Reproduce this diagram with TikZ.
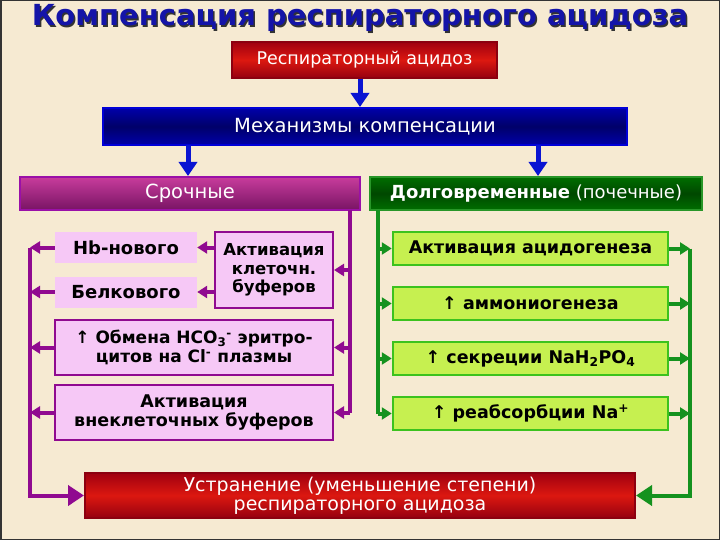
\documentclass[tikz,border=0pt]{standalone}
\usepackage{fontspec}
\setmainfont{DejaVu Sans}
\usetikzlibrary{arrows.meta}

\definecolor{bgbeige}{HTML}{F6EAD2}
\definecolor{titleblue}{HTML}{1414A8}
\definecolor{arrowblue}{HTML}{0A14D2}
\definecolor{lineviolet}{HTML}{900A90}
\definecolor{linegreen}{HTML}{14921E}
\definecolor{pinkfill}{HTML}{F6C8F6}
\definecolor{limefill}{HTML}{C6F050}
\definecolor{limeborder}{HTML}{3CC21E}

\begin{document}
\begin{tikzpicture}[x=1pt, y=-1pt,
  headbox/.style={text=white, inner sep=0pt, line width=2pt, font=\fontsize{18}{20}\selectfont},
  redhead/.style={headbox, top color={rgb,255:red,160;green,0;blue,16}, bottom color={rgb,255:red,150;green,0;blue,16}, middle color={rgb,255:red,220;green,24;blue,16}, draw={rgb,255:red,140;green,0;blue,16}},
  bluehead/.style={headbox, top color={rgb,255:red,0;green,0;blue,170}, bottom color={rgb,255:red,0;green,0;blue,170}, middle color={rgb,255:red,0;green,0;blue,105}, draw={rgb,255:red,0;green,0;blue,215}},
  violethead/.style={headbox, top color={rgb,255:red,200;green,60;blue,156}, bottom color={rgb,255:red,120;green,20;blue,100}, draw={rgb,255:red,154;green,16;blue,168}},
  greenhead/.style={headbox, top color={rgb,255:red,0;green,110;blue,0}, bottom color={rgb,255:red,0;green,110;blue,0}, middle color={rgb,255:red,0;green,72;blue,0}, draw={rgb,255:red,40;green,150;blue,40}},
  finalhead/.style={redhead, align=center, font=\fontsize{19}{19}\selectfont},
  pinkbox/.style={fill=pinkfill, inner sep=0pt, align=center, font=\bfseries\fontsize{18}{20}\selectfont},
  pinkframe/.style={pinkbox, draw=lineviolet, line width=2pt},
  limebox/.style={fill=limefill, draw=limeborder, line width=2.5pt, inner sep=0pt, font=\bfseries\fontsize{17.5}{18}\selectfont},
  bluearr/.style={arrowblue, line width=5pt, -{Triangle[length=14, width=18]}},
  violetline/.style={lineviolet, line width=4pt},
  violetarr/.style={violetline, -{Triangle[length=10, width=12]}},
  greenline/.style={linegreen, line width=4pt},
  greenarr/.style={greenline, -{Triangle[length=10, width=12]}},
  bigviolet/.style={violetline, -{Triangle[length=16, width=20]}},
  biggreen/.style={greenline, -{Triangle[length=16, width=20]}},
  titletext/.style={font=\bfseries\fontsize{29}{31}\selectfont},
]
% background and frame
\fill[bgbeige] (0,0) rectangle (720,540);
\draw[black!80, line width=1.5pt] (0.75,0.75) rectangle (719.25,539.25);

% title
\node[titletext, text=black!80] at (361.5,19.5) {Компенсация респираторного ацидоза};
\node[titletext, text=titleblue] (title) at (360,18) {Компенсация респираторного ацидоза};

% headers
\node[redhead, minimum width=265, minimum height=36, font=\fontsize{17.5}{20}\selectfont] (resp) at (364.5,60) {Респираторный ацидоз};
\node[bluehead, minimum width=524, minimum height=37, font=\fontsize{19.5}{20}\selectfont] (mech) at (365,126.5) {Механизмы компенсации};
\node[violethead, minimum width=340, minimum height=33, font=\fontsize{19.5}{20}\selectfont] (fast) at (190,193.5) {Срочные};
\node[greenhead, minimum width=332, minimum height=33] (slow) at (536,193.5) {\textbf{Долговременные} (почечные)};

\draw[bluearr] (resp.south -| 360,0) -- (mech.north -| 360,0);
\coordinate (mfast) at (188,145);
\coordinate (mslow) at (538,145);
\draw[bluearr] (mfast) -- (fast.north -| mfast);
\draw[bluearr] (mslow) -- (slow.north -| mslow);

% fast mechanisms
\node[pinkbox, minimum width=142, minimum height=31] (hb) at (126,247.5) {Hb-нового};
\node[pinkbox, minimum width=142, minimum height=31] (prot) at (126,292) {Белкового};
\node[pinkframe, minimum width=118, minimum height=76, font=\bfseries\fontsize{16.5}{18.5}\selectfont] (cell) at (274,270) {Активация\\клеточн.\\буферов};
\node[pinkframe, minimum width=278, minimum height=55, font=\bfseries\fontsize{17}{19}\selectfont] (exch) at (194,347.5) {↑ Обмена HCO\textsubscript{3}\textsuperscript{-} эритро-\\цитов на Cl\textsuperscript{-} плазмы};
\node[pinkframe, minimum width=278, minimum height=55, font=\bfseries\fontsize{17.5}{19}\selectfont] (extra) at (194,412.5) {Активация\\внеклеточных буферов};

% slow mechanisms
\node[limebox, minimum width=275, minimum height=33] (acid) at (530.5,248.5) {Активация ацидогенеза};
\node[limebox, minimum width=275, minimum height=33] (ammo) at (530.5,303.5) {↑ аммониогенеза};
\node[limebox, minimum width=275, minimum height=33] (secr) at (530.5,358.5) {↑ секреции NaH\textsubscript{2}PO\textsubscript{4}};
\node[limebox, minimum width=275, minimum height=33] (reab) at (530.5,413.5) {↑ реабсорбции Na\textsuperscript{+}};

% result
\node[finalhead, minimum width=550, minimum height=45] (res) at (360,495.5) {Устранение (уменьшение степени)\\респираторного ацидоза};

% violet connectors
\coordinate (vr) at (350,210);
\coordinate (vl) at (30,247.5);
\draw[violetline] (vr) -- (vr |- extra.east);
\foreach \b in {cell, exch, extra}
  \draw[violetarr] (vr |- \b.east) -- (\b.east);
\draw[violetarr] (cell.west |- hb) -- (hb.east);
\draw[violetarr] (cell.west |- prot) -- (prot.east);
\foreach \b in {hb, prot, exch, extra}
  \draw[violetarr] (\b.west) -- (\b.west -| vl);
\draw[bigviolet] (vl) |- (res.west);

% green connectors
\coordinate (gl) at (378,210);
\coordinate (gr) at (690,248.5);
\draw[greenline] (gl) -- (gl |- reab.west);
\foreach \b in {acid, ammo, secr, reab} {
  \draw[greenarr] (gl |- \b.west) -- (\b.west);
  \draw[greenarr] (\b.east) -- (\b.east -| gr);
}
\draw[biggreen] (gr) |- (res.east);
\end{tikzpicture}
\end{document}
